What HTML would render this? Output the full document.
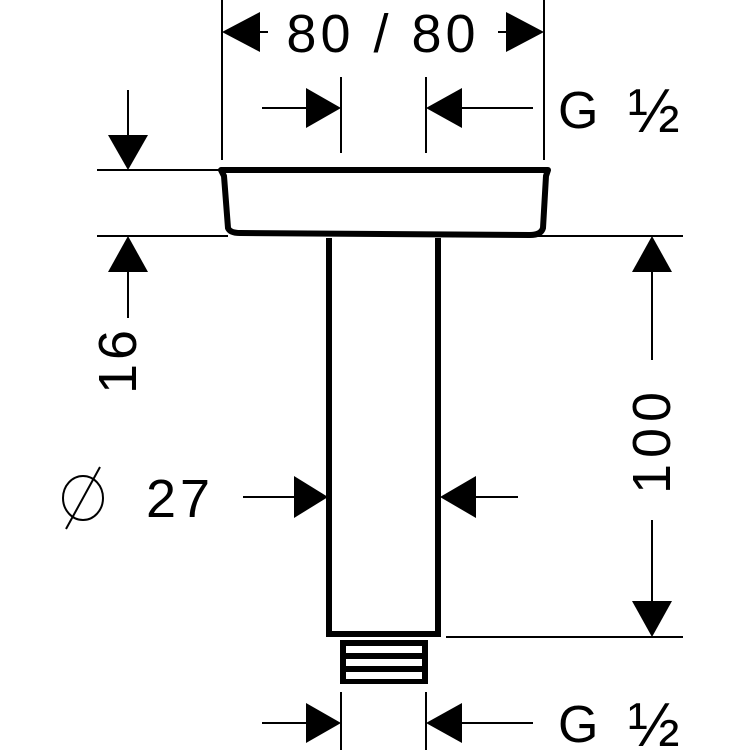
<!DOCTYPE html>
<html><head><style>html,body{margin:0;padding:0;background:#fff}svg{display:block}
text{font-family:"Liberation Sans","DejaVu Sans",sans-serif;fill:#000}</style></head>
<body>
<svg width="750" height="750" viewBox="0 0 750 750" xmlns="http://www.w3.org/2000/svg">
<g stroke="#000" stroke-width="2" fill="none">
<line x1="222" y1="0" x2="222" y2="160"/>
<line x1="544" y1="0" x2="544" y2="160"/>
<line x1="341" y1="77" x2="341" y2="153"/>
<line x1="426" y1="77" x2="426" y2="153"/>
<line x1="97" y1="170" x2="222" y2="170"/>
<line x1="97" y1="236" x2="228" y2="236"/>
<line x1="436" y1="236" x2="683" y2="236"/>
<line x1="446" y1="637" x2="683" y2="637"/>
<line x1="258" y1="32" x2="268" y2="32"/>
<line x1="498" y1="32" x2="508" y2="32"/>
<line x1="262" y1="108" x2="310" y2="108"/>
<line x1="460" y1="108" x2="533" y2="108"/>
<line x1="128" y1="90" x2="128" y2="140"/>
<line x1="128" y1="268" x2="128" y2="318"/>
<line x1="652" y1="268" x2="652" y2="360"/>
<line x1="652" y1="520" x2="652" y2="604"/>
<line x1="243" y1="497" x2="298" y2="497"/>
<line x1="473" y1="497" x2="518" y2="497"/>
<line x1="341" y1="692" x2="341" y2="750"/>
<line x1="426" y1="692" x2="426" y2="750"/>
<line x1="262" y1="723" x2="308" y2="723"/>
<line x1="460" y1="723" x2="533" y2="723"/>
<ellipse cx="83" cy="498" rx="20" ry="22"/>
<line x1="66" y1="529" x2="100" y2="467"/>
</g>
<g fill="#000">
<polygon points="222,32 260,12 260,52"/>
<polygon points="544,32 506,12 506,52"/>
<polygon points="341,108 306,88 306,128"/>
<polygon points="426,108 462,88 462,128"/>
<polygon points="128,170 108,135 148,135"/>
<polygon points="128,236 108,272 148,272"/>
<polygon points="652,236 632,272 672,272"/>
<polygon points="652,637 632,601 672,601"/>
<polygon points="328,497 294,476 294,518"/>
<polygon points="440,497 476,476 476,518"/>
<polygon points="341,723 306,703 306,743"/>
<polygon points="426,723 462,703 462,743"/>
</g>
<path d="M221,170 L548,170 L546,176 L543,228 Q541,235 530,235 L240,233 Q230,233 228,228 L224,176 Z" fill="none" stroke="#000" stroke-width="6" stroke-linejoin="round"/>
<path d="M329,238 L329,634 L438,634 L438,238" fill="none" stroke="#000" stroke-width="6"/>
<rect x="340" y="640" width="88" height="44" fill="#000"/>
<rect x="346" y="646" width="76" height="7" fill="#fff"/>
<rect x="346" y="659" width="76" height="7" fill="#fff"/>
<rect x="346" y="672" width="76" height="7" fill="#fff"/>
<text x="383" y="52" font-size="54" text-anchor="middle" letter-spacing="4">80 / 80</text>
<text x="558" y="128" font-size="52">G</text>
<text x="628" y="132" font-size="62">½</text>
<text x="558" y="742" font-size="52">G</text>
<text x="628" y="746" font-size="62">½</text>
<text transform="translate(136,360) rotate(-90)" font-size="54" text-anchor="middle" letter-spacing="4">16</text>
<text transform="translate(670,440) rotate(-90)" font-size="54" text-anchor="middle" letter-spacing="6">100</text>
<text x="146" y="517" font-size="54" letter-spacing="4">27</text>
</svg>
</body></html>
